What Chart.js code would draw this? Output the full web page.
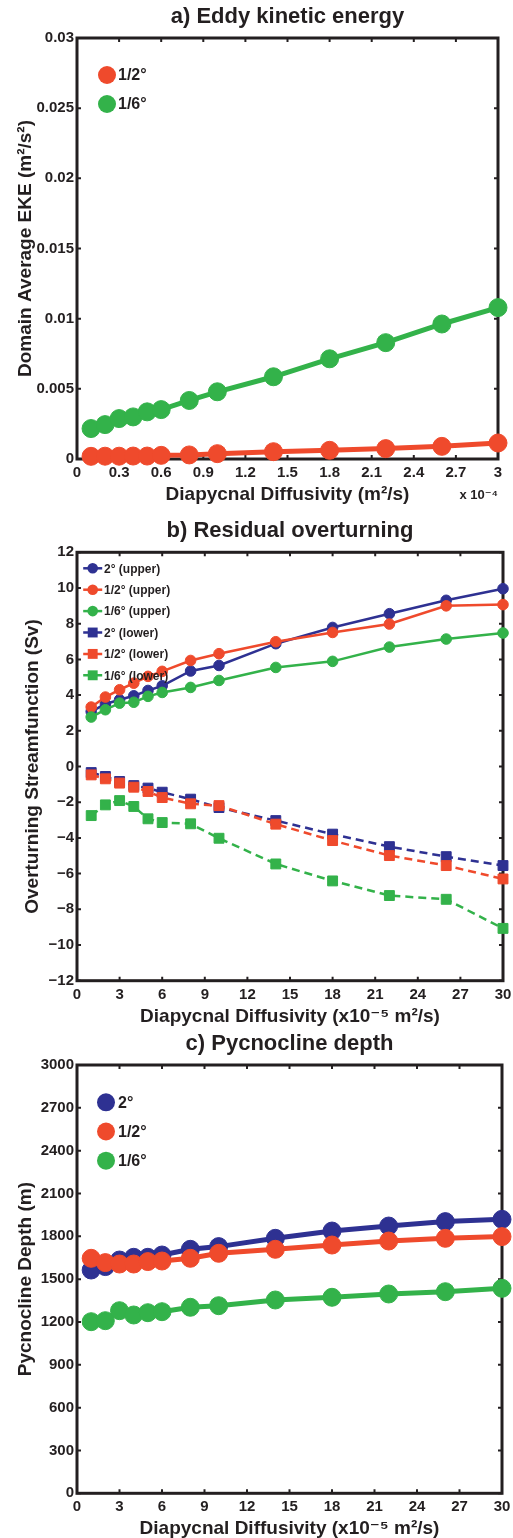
<!DOCTYPE html>
<html lang="en">
<head>
<meta charset="utf-8">
<title>Diapycnal diffusivity experiments</title>
<script src="https://cdn.jsdelivr.net/npm/chart.js@4.4.1/dist/chart.umd.min.js"></script>
<style>
  * { margin: 0; padding: 0; }
  body { width: 513px; height: 1538px; background: #fff; position: relative; overflow: hidden; }
  canvas { position: absolute; left: 0; }
  #eke { top: 0; }
  #moc { top: 500px; }
  #pyc { top: 1020px; }
</style>
</head>
<body>
<canvas id="eke" width="513" height="510"></canvas>
<canvas id="moc" width="513" height="530"></canvas>
<canvas id="pyc" width="513" height="518"></canvas>
<script>
// diffusivity: panel a in units of 1e-4 m2/s, panels b and c in 1e-5 m2/s
const kappaA = [0.1, 0.2, 0.3, 0.4, 0.5, 0.6, 0.8, 1.0, 1.4, 1.8, 2.2, 2.6, 3.0];
const kappa = [1, 2, 3, 4, 5, 6, 8, 10, 14, 18, 22, 26, 30];

// a) domain average EKE (m2/s2)
const ekeHalf = [0.00019, 0.0002, 0.0002, 0.00021, 0.00021, 0.00026, 0.00029, 0.00038, 0.00052, 0.00062, 0.00074, 0.0009, 0.00114];
const ekeSixth = [0.00217, 0.00245, 0.00288, 0.0030, 0.00336, 0.00352, 0.00417, 0.00479, 0.00586, 0.00714, 0.00829, 0.00962, 0.01079];

// b) residual overturning (Sv)
const mocUpper2 = [3.08, 3.5, 3.74, 3.96, 4.26, 4.52, 5.35, 5.66, 6.88, 7.79, 8.56, 9.31, 9.96];
const mocUpperHalf = [3.33, 3.89, 4.3, 4.67, 5.05, 5.33, 5.94, 6.32, 6.99, 7.51, 7.98, 9.0, 9.07];
const mocUpperSixth = [2.77, 3.18, 3.55, 3.6, 3.93, 4.15, 4.43, 4.82, 5.55, 5.89, 6.69, 7.14, 7.48];
const mocLower2 = [-0.34, -0.56, -0.84, -1.07, -1.21, -1.44, -1.83, -2.3, -3.03, -3.79, -4.49, -5.05, -5.55];
const mocLowerHalf = [-0.47, -0.69, -0.93, -1.16, -1.4, -1.74, -2.09, -2.19, -3.23, -4.15, -4.99, -5.55, -6.3];
const mocLowerSixth = [-2.75, -2.15, -1.91, -2.24, -2.93, -3.14, -3.21, -4.02, -5.46, -6.41, -7.23, -7.44, -9.07];

// c) pycnocline depth (m)
const pycn2 = [1564, 1588, 1634, 1653, 1653, 1669, 1709, 1728, 1786, 1837, 1872, 1903, 1919];
const pycnHalf = [1646, 1616, 1606, 1606, 1623, 1627, 1646, 1681, 1709, 1739, 1767, 1786, 1798];
const pycnSixth = [1202, 1209, 1279, 1249, 1265, 1272, 1303, 1314, 1354, 1373, 1396, 1412, 1436];

const ink = '#231f20';
const blue = '#2e3192';
const red = '#ef4a2c';
const green = '#33b24a';
const fam = '"Liberation Sans", Arial, "DejaVu Sans", sans-serif';

Chart.defaults.font.family = fam;
Chart.defaults.font.weight = 'bold';
Chart.defaults.color = ink;

const pairs = (xs, ys) => xs.map((x, i) => ({ x: x, y: ys[i] }));
const minus = v => (v < 0 ? '\u2212' + Math.abs(v) : String(v));

// box round the plot area with inward ticks on all four sides, MATLAB style
const frame = {
  id: 'frame',
  beforeDatasetsDraw(chart, args, opts) {
    const { ctx, chartArea: a, scales: { x, y } } = chart;
    ctx.save();
    ctx.strokeStyle = ink;
    ctx.lineWidth = 2;
    ctx.beginPath();
    x.ticks.forEach(t => {
      const px = x.getPixelForValue(t.value);
      ctx.moveTo(px, a.bottom); ctx.lineTo(px, a.bottom - 4);
      ctx.moveTo(px, a.top); ctx.lineTo(px, a.top + 4);
    });
    y.ticks.forEach(t => {
      const py = y.getPixelForValue(t.value);
      ctx.moveTo(a.left, py); ctx.lineTo(a.left + 4, py);
      ctx.moveTo(a.right, py); ctx.lineTo(a.right - 4, py);
    });
    ctx.stroke();
    ctx.lineWidth = 3;
    ctx.strokeRect(a.left, a.top, a.right - a.left, a.bottom - a.top);
    if (opts.multiplier) {
      ctx.fillStyle = ink;
      ctx.font = 'bold 13px ' + fam;
      ctx.textAlign = 'right';
      ctx.textBaseline = 'middle';
      ctx.fillText(opts.multiplier, a.right, a.bottom + 36);
    }
    ctx.restore();
  }
};

// legend drawn inside the axes, top left, no box
const key = {
  id: 'key',
  afterDatasetsDraw(chart, args, opts) {
    const { ctx, chartArea: a } = chart;
    ctx.save();
    chart.data.datasets.forEach((ds, i) => {
      const cx = a.left + opts.x;
      const cy = a.top + opts.y + i * opts.gap;
      if (opts.line) {
        ctx.strokeStyle = ds.borderColor;
        ctx.lineWidth = ds.borderWidth;
        ctx.setLineDash(ds.borderDash || []);
        ctx.beginPath();
        ctx.moveTo(cx - opts.line / 2, cy);
        ctx.lineTo(cx + opts.line / 2, cy);
        ctx.stroke();
        ctx.setLineDash([]);
      }
      ctx.fillStyle = ds.borderColor;
      ctx.beginPath();
      if (ds.pointStyle === 'rect') {
        const s = ds.pointRadius * Math.SQRT1_2;
        ctx.rect(cx - s, cy - s, 2 * s, 2 * s);
      } else {
        ctx.arc(cx, cy, ds.pointRadius, 0, Math.PI * 2);
      }
      ctx.fill();
      ctx.fillStyle = ink;
      ctx.font = opts.font;
      ctx.textBaseline = 'middle';
      ctx.fillText(ds.label, a.left + opts.tx, cy + 1);
    });
    ctx.restore();
  }
};

function series(label, xs, ys, color, opt) {
  return Object.assign({
    label: label,
    data: pairs(xs, ys),
    borderColor: color,
    backgroundColor: color,
    pointBackgroundColor: color,
    pointBorderColor: color,
    pointBorderWidth: 1,
    pointStyle: 'circle',
    tension: 0,
    clip: false
  }, opt);
}

function panel(id, cfg) {
  return new Chart(document.getElementById(id), {
    type: 'line',
    data: { datasets: cfg.datasets },
    plugins: [frame, key],
    options: {
      responsive: false,
      animation: false,
      events: [],
      layout: { padding: { left: 0, top: 0, right: cfg.right, bottom: 0 } },
      plugins: {
        legend: { display: false },
        tooltip: { enabled: false },
        title: {
          display: true,
          text: cfg.title,
          fullSize: false,
          font: { size: 22, weight: 'bold' },
          padding: { top: cfg.titleTop, bottom: cfg.titleBottom }
        },
        frame: { multiplier: cfg.multiplier },
        key: cfg.key
      },
      scales: {
        x: {
          type: 'linear',
          min: cfg.xMin, max: cfg.xMax,
          // fixed axis band; end labels may hang past the plot box
          afterFit: s => { s.height = cfg.xHeight; s.paddingLeft = 0; s.paddingRight = 0; },
          grid: { display: false, drawTicks: false },
          border: { display: false },
          ticks: { stepSize: cfg.xStep, padding: 5, font: { size: 15 }, maxRotation: 0, autoSkip: false,
                   callback: cfg.xFormat },
          title: { display: true, text: cfg.xTitle, font: { size: 19 }, padding: { top: 0, bottom: cfg.xTitlePad } }
        },
        y: {
          min: cfg.yMin, max: cfg.yMax,
          afterFit: s => { s.width = 77; },
          grid: { display: false, drawTicks: false },
          border: { display: false },
          ticks: { stepSize: cfg.yStep, padding: 3, font: { size: 15 }, autoSkip: false,
                   callback: cfg.yFormat },
          title: { display: true, text: cfg.yTitle, font: { size: 19 }, padding: { top: cfg.yTitlePad, bottom: 0 } }
        }
      }
    }
  });
}

panel('eke', {
  title: 'a) Eddy kinetic energy', titleTop: 3.8, titleBottom: 7.8,
  right: 15, xHeight: 51, xTitlePad: 3.6, yTitlePad: 14,
  xMin: 0, xMax: 3, xStep: 0.3, yMin: 0, yMax: 0.03, yStep: 0.005,
  xFormat: v => String(Number(v.toFixed(1))),
  yFormat: v => String(Number(v.toFixed(3))),
  xTitle: 'Diapycnal Diffusivity (m\u00b2/s)',
  yTitle: 'Domain Average EKE (m\u00b2/s\u00b2)',
  multiplier: 'x 10\u207b\u2074',
  key: { x: 30, y: 37, gap: 29, tx: 41, font: 'bold 16px ' + fam },
  datasets: [
    series('1/2\u00b0', kappaA, ekeHalf, red, { borderWidth: 5, pointRadius: 9, order: 2 }),
    series('1/6\u00b0', kappaA, ekeSixth, green, { borderWidth: 5, pointRadius: 9, order: 1 })
  ]
});

const up = { borderWidth: 2.5, pointRadius: 5.3 };
const low = { borderWidth: 2.5, pointRadius: 7, pointStyle: 'rect', borderDash: [8, 5] };

panel('moc', {
  title: 'b) Residual overturning', titleTop: 17.5, titleBottom: 8.4,
  right: 10, xHeight: 49.3, xTitlePad: 1.6, yTitlePad: 21.6,
  xMin: 0, xMax: 30, xStep: 3, yMin: -12, yMax: 12, yStep: 2,
  xFormat: v => String(v),
  yFormat: minus,
  xTitle: 'Diapycnal Diffusivity (x10\u207b\u2075 m\u00b2/s)',
  yTitle: 'Overturning Streamfunction (Sv)',
  key: { x: 15.7, y: 16, gap: 21.4, tx: 27, line: 19, font: 'bold 12px ' + fam },
  datasets: [
    series('2\u00b0 (upper)', kappa, mocUpper2, blue, Object.assign({ order: 6 }, up)),
    series('1/2\u00b0 (upper)', kappa, mocUpperHalf, red, Object.assign({ order: 5 }, up)),
    series('1/6\u00b0 (upper)', kappa, mocUpperSixth, green, Object.assign({ order: 4 }, up)),
    series('2\u00b0 (lower)', kappa, mocLower2, blue, Object.assign({ order: 3 }, low)),
    series('1/2\u00b0 (lower)', kappa, mocLowerHalf, red, Object.assign({ order: 2 }, low)),
    series('1/6\u00b0 (lower)', kappa, mocLowerSixth, green, Object.assign({ order: 1 }, low))
  ]
});

panel('pyc', {
  title: 'c) Pycnocline depth', titleTop: 11, titleBottom: 7.6,
  right: 11, xHeight: 44.7, xTitlePad: -2, yTitlePad: 14,
  xMin: 0, xMax: 30, xStep: 3, yMin: 0, yMax: 3000, yStep: 300,
  xFormat: v => String(v),
  yFormat: v => String(v),
  xTitle: 'Diapycnal Diffusivity (x10\u207b\u2075 m\u00b2/s)',
  yTitle: 'Pycnocline Depth (m)',
  key: { x: 29, y: 37.3, gap: 29.2, tx: 41, font: 'bold 16px ' + fam },
  datasets: [
    series('2\u00b0', kappa, pycn2, blue, { borderWidth: 5, pointRadius: 9, order: 3 }),
    series('1/2\u00b0', kappa, pycnHalf, red, { borderWidth: 5, pointRadius: 9, order: 2 }),
    series('1/6\u00b0', kappa, pycnSixth, green, { borderWidth: 5, pointRadius: 9, order: 1 })
  ]
});
</script>
</body>
</html>
